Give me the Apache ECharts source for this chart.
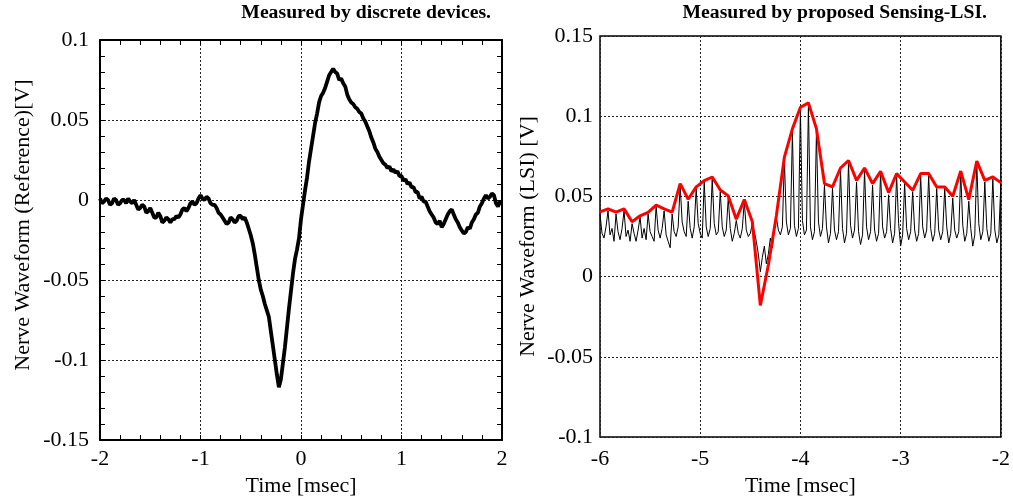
<!DOCTYPE html>
<html>
<head>
<meta charset="utf-8">
<script src="https://cdn.jsdelivr.net/npm/echarts@6/dist/echarts.min.js"></script>
<style>
html,body{margin:0;padding:0;background:#fff;}
#chart{width:1013px;height:502px;}
</style>
</head>
<body>
<div id="chart"></div>
<script>
// ---- Left panel: reference waveform (discrete devices) ----
const refStart = -2.0;     // first sample time [msec]
const refPeriod = 0.02;    // sampling period [msec]
const refVolt = [
 0.001,-0.002,-0.001,0.001,0.000,-0.003,-0.002,0.001,0.000,-0.003,
 -0.002,0.000,0.000,-0.002,0.001,-0.001,-0.002,0.000,-0.003,-0.006,
 -0.005,-0.003,-0.004,-0.008,-0.007,-0.005,-0.008,-0.011,-0.011,-0.008,
 -0.010,-0.014,-0.013,-0.011,-0.012,-0.014,-0.012,-0.012,-0.010,-0.011,
 -0.009,-0.006,-0.005,-0.007,-0.005,-0.002,-0.001,-0.003,-0.002,0.001,
 0.003,0.001,0.000,0.002,0.001,-0.002,-0.003,-0.003,-0.005,-0.008,
 -0.009,-0.011,-0.013,-0.015,-0.014,-0.011,-0.012,-0.014,-0.013,-0.010,
 -0.010,-0.012,-0.011,-0.014,-0.018,-0.022,-0.027,-0.034,-0.042,-0.050,
 -0.056,-0.060,-0.065,-0.069,-0.073,-0.082,-0.091,-0.100,-0.109,-0.117,
 -0.112,-0.102,-0.092,-0.080,-0.068,-0.057,-0.046,-0.037,-0.031,-0.024,
 -0.012,-0.003,0.006,0.014,0.024,0.032,0.040,0.048,0.054,0.061,
 0.065,0.067,0.070,0.074,0.078,0.080,0.082,0.080,0.079,0.075,
 0.076,0.073,0.071,0.066,0.063,0.061,0.060,0.058,0.057,0.055,
 0.054,0.051,0.049,0.046,0.043,0.039,0.036,0.032,0.030,0.027,
 0.025,0.023,0.022,0.020,0.021,0.018,0.019,0.017,0.018,0.015,
 0.015,0.012,0.013,0.010,0.011,0.008,0.008,0.005,0.005,0.001,
 0.002,-0.001,-0.001,-0.004,-0.007,-0.009,-0.011,-0.014,-0.015,-0.013,
 -0.017,-0.015,-0.012,-0.009,-0.007,-0.006,-0.009,-0.012,-0.014,-0.017,
 -0.019,-0.021,-0.020,-0.017,-0.018,-0.014,-0.012,-0.009,-0.008,-0.004,
 -0.002,0.001,0.003,0.001,0.002,0.004,0.003,-0.002,-0.004,-0.001,
 -0.002];

// ---- Right panel: LSI measurement ----
const lsiStart = -6.0;      // first sample time [msec]
const lsiPeriod = 0.02;     // sampling period [msec]
const lsiRaw = [
 0.039,0.027,0.024,0.031, 0.041,0.026,0.030,0.022, 0.039,0.028,0.023,0.030, 0.041,0.025,0.029,0.022,
 0.033,0.027,0.022,0.029, 0.037,0.024,0.030,0.023, 0.039,0.028,0.025,0.022, 0.044,0.029,0.024,0.030,
 0.041,0.026,0.022,0.018, 0.039,0.028,0.025,0.031, 0.057,0.034,0.028,0.025, 0.047,0.030,0.024,0.031,
 0.055,0.033,0.027,0.024, 0.059,0.031,0.025,0.030, 0.061,0.033,0.026,0.028, 0.053,0.031,0.025,0.029,
 0.049,0.030,0.022,0.027, 0.035,0.027,0.024,0.030, 0.047,0.029,0.025,0.027, 0.033,0.028,0.022,0.014,
 0.003,0.012,0.019,0.008, 0.014,0.024,0.018,0.030, 0.037,0.029,0.026,0.031, 0.073,0.034,0.026,0.030,
 0.090,0.032,0.025,0.030, 0.104,0.035,0.026,0.029, 0.107,0.031,0.023,0.028, 0.090,0.034,0.025,0.030,
 0.057,0.031,0.021,0.027, 0.055,0.029,0.023,0.028, 0.066,0.030,0.021,0.027, 0.071,0.032,0.024,0.029,
 0.059,0.028,0.020,0.026, 0.066,0.031,0.023,0.028, 0.057,0.029,0.022,0.027, 0.065,0.031,0.024,0.028,
 0.051,0.030,0.021,0.027, 0.063,0.033,0.019,0.026, 0.058,0.030,0.023,0.028, 0.053,0.029,0.022,0.027,
 0.063,0.031,0.024,0.029, 0.063,0.030,0.022,0.027, 0.055,0.029,0.023,0.028, 0.055,0.031,0.021,0.027,
 0.049,0.029,0.024,0.028, 0.065,0.032,0.022,0.027, 0.047,0.030,0.019,0.026, 0.071,0.033,0.023,0.028,
 0.059,0.030,0.022,0.027, 0.061,0.029,0.021,0.026, 0.058];
const envTime = [-6.00,-5.92,-5.84,-5.76,-5.68,-5.60,-5.52,-5.44,-5.36,-5.28,-5.20,-5.12,-5.04,-4.96,-4.88,-4.80,-4.72,-4.64,-4.56,-4.48,-4.40,-4.32,-4.24,-4.16,-4.08,-4.00,-3.92,-3.84,-3.76,-3.68,-3.60,-3.52,-3.44,-3.36,-3.28,-3.20,-3.12,-3.04,-2.96,-2.88,-2.80,-2.72,-2.64,-2.56,-2.48,-2.40,-2.32,-2.24,-2.16,-2.08,-2.00];
const envVolt = [0.0404,0.0422,0.0402,0.0422,0.0342,0.0379,0.0400,0.0445,0.0422,0.0402,0.0580,0.0482,0.0559,0.0598,0.0621,0.0540,0.0503,0.0358,0.0480,0.0342,-0.0180,0.0072,0.0380,0.0745,0.0921,0.1056,0.1083,0.0921,0.0580,0.0559,0.0677,0.0724,0.0600,0.0677,0.0580,0.0656,0.0524,0.0642,0.0590,0.0538,0.0642,0.0642,0.0559,0.0559,0.0501,0.0658,0.0480,0.0720,0.0600,0.0621,0.0586];

const refData = refVolt.map((v, i) => [+(refStart + i * refPeriod).toFixed(3), v]);
const lsiData = lsiRaw.map((v, i) => [+(lsiStart + i * lsiPeriod).toFixed(3), v]);
const envData = envTime.map((t, i) => [t, envVolt[i]]);

const FONT = '"Liberation Serif","DejaVu Serif",serif';
const labelStyle = {fontFamily: FONT, fontSize: 22, color: '#000'};
const gridLine = {show: true, lineStyle: {color: '#222', type: [2, 2], width: 1}};

function tickAxis(extra) {
  return Object.assign({
    type: 'value',
    axisLine: {show: true, onZero: false, lineStyle: {color: '#000', width: 2}},
    axisTick: {show: true, inside: true, length: 5, lineStyle: {color: '#000', width: 1}},
    minorTick: {show: true, splitNumber: 5, length: 5, lineStyle: {color: '#000', width: 1}},
    axisLabel: {show: false}, splitLine: {show: false}
  }, extra);
}

const option = {
  animation: false,
  backgroundColor: '#fff',
  title: [
    {text: 'Measured by discrete devices.', right: 522, top: 3, padding: 0,
     textStyle: {fontFamily: FONT, fontWeight: 'bold', fontSize: 19.7, color: '#000'}},
    {text: 'Measured by proposed Sensing-LSI.', right: 26, top: 3, padding: 0,
     textStyle: {fontFamily: FONT, fontWeight: 'bold', fontSize: 19.7, color: '#000'}}
  ],
  grid: [
    {left: 100, top: 40, width: 402, height: 402, show: false},
    {left: 600, top: 36, width: 403, height: 403, show: true, borderColor: '#000', borderWidth: 1.5, backgroundColor: 'transparent'}
  ],
  xAxis: [
    tickAxis({gridIndex: 0, min: -2, max: 2, interval: 1, position: 'bottom',
      axisLabel: Object.assign({show: true, margin: 8}, labelStyle),
      splitLine: gridLine,
      name: 'Time [msec]', nameLocation: 'middle', nameGap: 35, nameTextStyle: labelStyle}),
    tickAxis({gridIndex: 0, min: -2, max: 2, interval: 1, position: 'top'}),
    {type: 'value', gridIndex: 1, min: -6, max: -2, interval: 1, position: 'bottom',
      axisLine: {show: false, onZero: false}, axisTick: {show: false},
      axisLabel: Object.assign({margin: 11}, labelStyle),
      splitLine: gridLine,
      name: 'Time [msec]', nameLocation: 'middle', nameGap: 38, nameTextStyle: labelStyle}
  ],
  yAxis: [
    tickAxis({gridIndex: 0, min: -0.15, max: 0.1, interval: 0.05, position: 'left',
      axisLabel: Object.assign({show: true, margin: 11}, labelStyle),
      splitLine: gridLine,
      name: 'Nerve Waveform (Reference)[V]', nameLocation: 'middle', nameGap: 66,
      nameTextStyle: Object.assign({padding: [0, 0, 0, 30]}, labelStyle)}),
    tickAxis({gridIndex: 0, min: -0.15, max: 0.1, interval: 0.05, position: 'right'}),
    {type: 'value', gridIndex: 1, min: -0.1, max: 0.15, interval: 0.05, position: 'left',
      axisLine: {show: false, onZero: false}, axisTick: {show: false},
      axisLabel: Object.assign({margin: 7}, labelStyle),
      splitLine: gridLine,
      name: 'Nerve Waveform (LSI) [V]', nameLocation: 'middle', nameGap: 61, nameTextStyle: labelStyle}
  ],
  series: [
    {type: 'line', xAxisIndex: 0, yAxisIndex: 0, data: refData, showSymbol: false,
     lineStyle: {color: '#000', width: 3.8}, z: 3},
    {type: 'line', xAxisIndex: 2, yAxisIndex: 2, data: lsiData, showSymbol: false,
     lineStyle: {color: '#000', width: 1}, z: 3},
    {type: 'line', xAxisIndex: 2, yAxisIndex: 2, data: envData, showSymbol: false,
     lineStyle: {color: '#ff0000', width: 3}, z: 4}
  ]
};

const chart = echarts.init(document.getElementById('chart'), null, {renderer: 'canvas'});
chart.setOption(option);
</script>
</body>
</html>
